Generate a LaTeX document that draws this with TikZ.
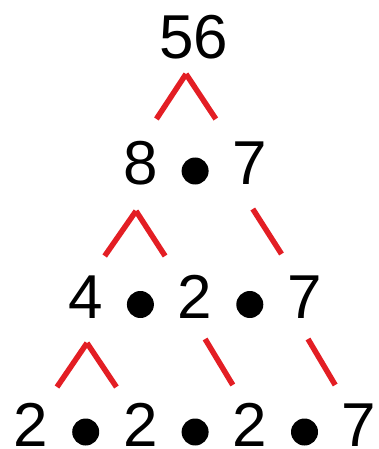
\documentclass[tikz,border=0pt]{standalone}
\usepackage{fontspec}
\setmainfont{Liberation Sans}
\usetikzlibrary{calc}
\definecolor{treered}{RGB}{227,30,36}
\begin{document}
\begin{tikzpicture}[x=1pt,y=-1pt,
  num/.style={anchor=base,inner sep=0pt,font=\fontsize{62}{74}\selectfont},
  dot/.style={circle,fill=black,minimum size=27pt,inner sep=0pt},
  branch/.style={draw=treered,line width=5.5pt}]
\useasboundingbox (0,0) rectangle (379,449);
% row 1
\node[num] (n56) at (194,59) {56};
% row 2
\node[num] (a8) at (140.4,184) {8};
\node[dot] (ad1) at (195.1,171) {};
\node[num] (a7) at (249.8,184) {7};
% row 3
\node[num] (b4) at (85.7,318) {4};
\node[dot] (bd1) at (140.4,304.5) {};
\node[num] (b2) at (195.1,318) {2};
\node[dot] (bd2) at (249.8,304.5) {};
\node[num] (b7) at (304.5,318) {7};
% row 4
\node[num] (c1) at (31,446) {2};
\node[dot] (cd1) at (85.7,432) {};
\node[num] (c2) at (140.4,446) {2};
\node[dot] (cd2) at (195.1,432) {};
\node[num] (c3) at (249.8,446) {2};
\node[dot] (cd3) at (304.5,432) {};
\node[num] (c7) at (359.2,446) {7};
% branches 56 -> 8, 7
\draw[branch] ($(n56.base)+(-8,15)$) -- ($(a8.base)+(16,-65)$);
\draw[branch] ($(n56.base)+(-8,15)$) -- ($(a7.base)+(-34,-65)$);
% 8 -> 4, 2
\draw[branch] ($(a8.base)+(-4.4,27)$) -- ($(b4.base)+(19,-62)$);
\draw[branch] ($(a8.base)+(-4.4,27)$) -- ($(b2.base)+(-30,-62)$);
% 7 -> 7
\draw[branch] ($(a7.base)+(3,25)$) -- ($(b7.base)+(-23,-64)$);
% 4 -> 2, 2
\draw[branch] ($(b4.base)+(1.3,25)$) -- ($(c1.base)+(26,-59)$);
\draw[branch] ($(b4.base)+(1.3,25)$) -- ($(c2.base)+(-24,-59)$);
% 2 -> 2
\draw[branch] ($(b2.base)+(10,21)$) -- ($(c3.base)+(-17,-61)$);
% 7 -> 7
\draw[branch] ($(b7.base)+(3.5,21)$) -- ($(c7.base)+(-24,-61)$);
\end{tikzpicture}
\end{document}
